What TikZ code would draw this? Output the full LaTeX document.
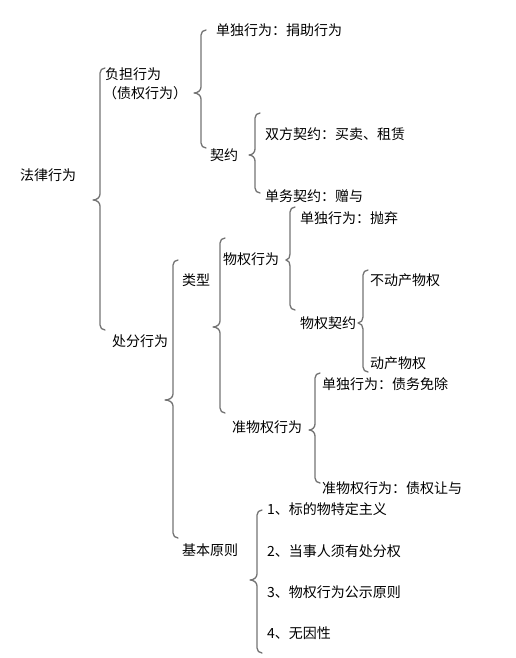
\documentclass[tikz,border=0pt]{standalone}
\usepackage{fontspec}
\setmainfont{Noto Sans CJK SC}
\tikzset{
  lbl/.style={anchor=west, inner sep=0pt, font=\fontsize{14pt}{16pt}\selectfont, text=black},
  bracestyle/.style={draw=black!55, line width=1.3pt, line cap=round, line join=round}
}
\newcommand{\bracedraw}[5]{%
  \draw[bracestyle] ({#1+5},{-(#2)}) to[out=180,in=90] (#1,{-(#2)-5})
    -- (#1,{-(#4)+6}) to[out=-90,in=0] (#3,{-(#4)})
    to[out=0,in=90] (#1,{-(#4)-6})
    -- (#1,{-(#5)+5}) to[out=-90,in=180] ({#1+5},{-(#5)});}
\begin{document}
\begin{tikzpicture}[x=1pt,y=1pt]
\useasboundingbox (0,0) rectangle (516,-658);
% texts
\node[lbl] (law) at (20,-175) {法律行为};
\node[lbl] (fudan) at (105,-74) {负担行为};
\node[lbl] (zhaiquan) at (103,-93) {（债权行为）};
\node[lbl] (dandu1) at (216,-30) {单独行为：捐助行为};
\node[lbl] (qiyue) at (210,-155) {契约};
\node[lbl] (shuangfang) at (265,-134) {双方契约：买卖、租赁};
\node[lbl] (danwu) at (265,-196) {单务契约：赠与};
\node[lbl] (chufen) at (112,-341) {处分行为};
\node[lbl] (leixing) at (182,-280) {类型};
\node[lbl] (wuquan) at (223,-259) {物权行为};
\node[lbl] (paoqi) at (300,-218) {单独行为：抛弃};
\node[lbl] (wqqy) at (300,-323) {物权契约};
\node[lbl] (budong) at (370,-280) {不动产物权};
\node[lbl] (dongchan) at (370,-363) {动产物权};
\node[lbl] (zhunwq) at (232,-427) {准物权行为};
\node[lbl] (mianchu) at (322,-384) {单独行为：债务免除};
\node[lbl] (rangyu) at (322,-488) {准物权行为：债权让与};
\node[lbl] (jiben) at (182,-550) {基本原则};
\node[lbl] (p1) at (267,-509) {1、标的物特定主义};
\node[lbl] (p2) at (267,-551) {2、当事人须有处分权};
\node[lbl] (p3) at (267,-592) {3、物权行为公示原则};
\node[lbl] (p4) at (267,-633) {4、无因性};
% braces
\bracedraw{100}{68}{93}{200}{330}
\bracedraw{201}{30}{194}{93}{148}
\bracedraw{255}{113}{249}{155}{193}
\bracedraw{290}{207}{286}{260}{310}
\bracedraw{220}{238}{213}{327}{413}
\bracedraw{363}{270}{358}{323}{372}
\bracedraw{315}{373}{309}{430}{483}
\bracedraw{173}{260}{165}{400}{538}
\bracedraw{257}{510}{250}{580}{653}
\end{tikzpicture}
\end{document}
